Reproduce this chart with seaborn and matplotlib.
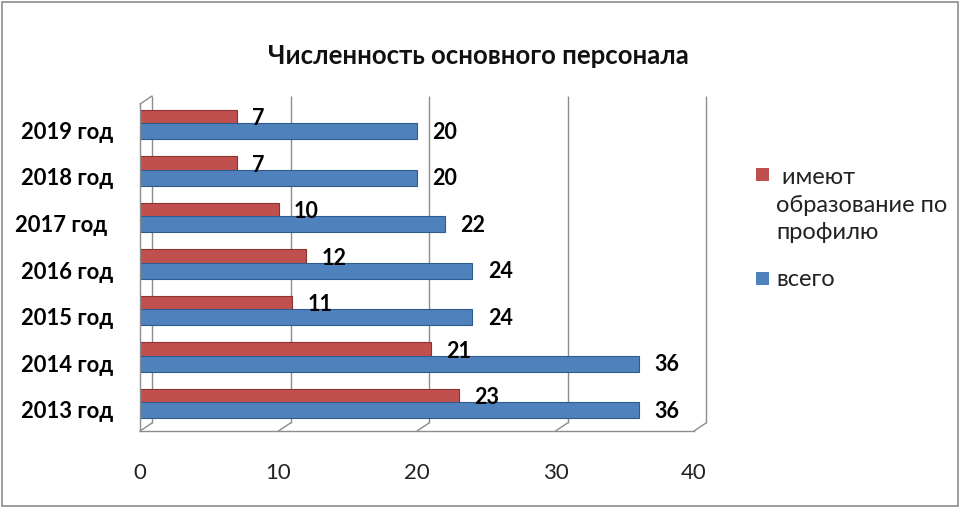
import matplotlib
matplotlib.use("Agg")
import matplotlib.pyplot as plt
import matplotlib.transforms as mtransforms
from matplotlib.patches import Rectangle
import seaborn as sns
import pandas as pd

years = ["2019 год", "2018 год", "2017 год ", "2016 год", "2015 год", "2014 год", "2013 год"]
profile = [7, 7, 10, 12, 11, 21, 23]
total = [20, 20, 22, 24, 24, 36, 36]
series_names = ["имеют образование по профилю", "всего"]
legend_labels = [" имеют\nобразование по\nпрофилю", "всего"]
xticks = [0, 10, 20, 30, 40]
title = "Численность основного персонала"
colors = ["#C0504D", "#4F81BD"]
edge_colors = ["#8a3330", "#2f5b8f"]

df = pd.DataFrame({
    "year": years * 2,
    "value": profile + total,
    "series": [series_names[0]] * len(years) + [series_names[1]] * len(years),
})

sns.set_theme(style="white")
plt.rcParams['font.family'] = ['Lato', 'DejaVu Sans']

W, H = 960, 510
fig = plt.figure(figsize=(W / 100, H / 100), dpi=100)
left_px, right_px, top_px, bot_px = 140, 694, 105, 432
ax = fig.add_axes([left_px / W, (H - bot_px) / H, (right_px - left_px) / W, (bot_px - top_px) / H])

palette = dict(zip(series_names, colors))
sns.barplot(data=df, y="year", x="value", hue="series", order=years,
            hue_order=series_names, palette=palette, orient="h",
            width=0.58, ax=ax, saturation=1, legend=False)

ax.set_xlim(0, 40)
ax.set_ylim(6.59, -0.44)

# 3D back wall: offset gridlines
dx, dy = 12, 8
off = mtransforms.offset_copy(ax.transData, fig=fig, x=dx, y=dy, units="dots")
ax.vlines(xticks, ymin=6.59, ymax=-0.44, colors="#8c8c8c", linewidth=1.0,
          transform=off, zorder=0, clip_on=False)
# floor / wall connectors
for t in xticks:
    ax.annotate("", xy=(t, 6.59), xycoords="data", xytext=(dx * 0.72, dy * 0.72),
                textcoords="offset points",
                arrowprops=dict(arrowstyle="-", color="#8c8c8c", lw=1.0,
                                shrinkA=0, shrinkB=0))
ax.annotate("", xy=(0, -0.44), xycoords="data", xytext=(dx * 0.72, dy * 0.72),
            textcoords="offset points",
            arrowprops=dict(arrowstyle="-", color="#8c8c8c", lw=1.0, shrinkA=0, shrinkB=0))

label_shift = mtransforms.ScaledTranslation(0, -4 / 100, fig.dpi_scale_trans)
for i, c in enumerate(ax.containers):
    for p in c:
        h = p.get_height()
        p.set_y(p.get_y() - h * 0.09)
        p.set_height(h * 1.18)
        p.set_edgecolor(edge_colors[i])
        p.set_linewidth(0.8)
    texts = ax.bar_label(c, padding=11, fontsize=15.5, fontweight="bold", color="black")
    for t in texts:
        t.set_transform(t.get_transform() + label_shift)

for s in ["top", "right"]:
    ax.spines[s].set_visible(False)
for s in ["left", "bottom"]:
    ax.spines[s].set_color("#8c8c8c")
    ax.spines[s].set_linewidth(1.0)

ax.set_xticks(xticks)
ax.set_xticklabels([str(t) for t in xticks], fontsize=16, color="#222222")
ax.tick_params(axis="x", direction="out", length=6, color="#8c8c8c", pad=16)
ax.tick_params(axis="y", length=0, pad=19.5)
ylab_shift = mtransforms.ScaledTranslation(0, -5 / 100, fig.dpi_scale_trans)
for lab in ax.get_yticklabels():
    lab.set_fontsize(15.8)
    lab.set_fontweight("bold")
    lab.set_color("black")
    lab.set_transform(lab.get_transform() + ylab_shift)
ax.set_xlabel("")
ax.set_ylabel("")

fig.text(478 / W, 1 - 56 / H, title, ha="center", va="center", fontsize=18.5,
         fontweight="bold", color="#111111")

# legend
leg_text_y = [205, 279]
leg_mark_y = [175, 279]
for lab, col, ty, my in zip(legend_labels, colors, leg_text_y, leg_mark_y):
    fig.patches.append(Rectangle((756 / W, 1 - (my + 7) / H), 13 / W, 13 / H,
                                 transform=fig.transFigure, facecolor=col,
                                 edgecolor="none"))
    fig.text(776 / W, 1 - ty / H, lab, ha="left", va="center", fontsize=17,
             linespacing=1.38, color="#222222")

# figure frame
fig.patches.append(Rectangle((0.002, 0.006), 0.996, 0.988, transform=fig.transFigure,
                             fill=False, edgecolor="#8c8c8c", linewidth=1.2))

fig.savefig("out.png", dpi=100)
